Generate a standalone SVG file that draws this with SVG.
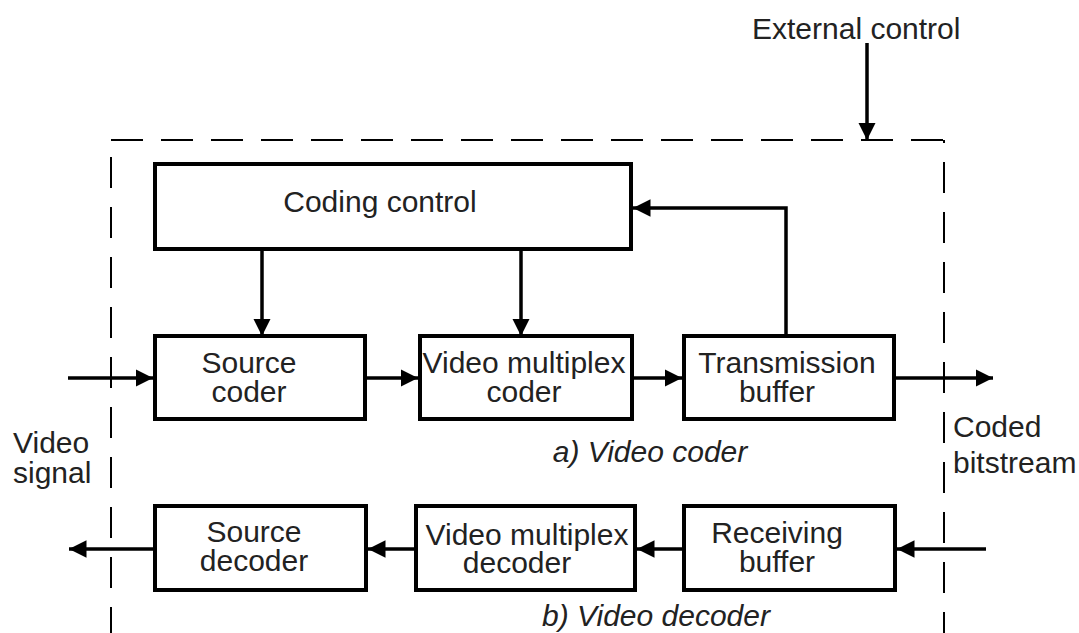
<svg xmlns="http://www.w3.org/2000/svg" width="1079" height="633" viewBox="0 0 1079 633">
  <style>
    .box { fill: #ffffff; stroke: #000000; stroke-width: 4; }
    .lbl { font-family: "Liberation Sans", Arial, sans-serif; font-size: 30px; fill: #222222; text-anchor: middle; }
    .cap { font-family: "Liberation Sans", Arial, sans-serif; font-size: 30px; fill: #222222; font-style: italic; text-anchor: middle; }
    .side { font-family: "Liberation Sans", Arial, sans-serif; font-size: 30px; fill: #222222; }
    .wire { fill: none; stroke: #000000; stroke-width: 3.5; }
    .frame { fill: none; stroke: #000000; stroke-width: 2; }
  </style>
  <defs>
    <marker id="arrow" viewBox="0 0 10 10" refX="10" refY="5" markerWidth="5" markerHeight="5" markerUnits="strokeWidth" orient="auto">
      <path d="M0,0 L10,5 L0,10 z" fill="#000000"/>
    </marker>
  </defs>
  <rect width="1079" height="633" fill="#ffffff"/>

  <!-- system boundary (dashed) -->
  <g id="boundary">
    <line class="frame" x1="111" y1="140" x2="944" y2="140" stroke-dasharray="32 18"/>
    <line class="frame" x1="111" y1="140" x2="111" y2="633" stroke-dasharray="31 19" stroke-dashoffset="33"/>
    <line class="frame" x1="944" y1="140" x2="944" y2="633" stroke-dasharray="31 19" stroke-dashoffset="28"/>
  </g>

  <!-- free labels -->
  <text class="side" x="752" y="39">External control</text>
  <text class="side" x="13" y="453">Video</text>
  <text class="side" x="13" y="483">signal</text>
  <text class="side" x="953" y="437">Coded</text>
  <text class="side" x="953" y="473">bitstream</text>
  <text class="cap" x="650" y="462">a) Video coder</text>
  <text class="cap" x="656" y="626">b) Video decoder</text>

  <!-- coder -->
  <g id="coding-control">
    <rect class="box" x="155" y="164" width="476" height="85"/>
    <text class="lbl" x="380" y="212">Coding control</text>
  </g>
  <g id="source-coder">
    <rect class="box" x="155" y="336" width="210" height="83"/>
    <text class="lbl" x="249" y="373">Source</text>
    <text class="lbl" x="249" y="402">coder</text>
  </g>
  <g id="video-multiplex-coder">
    <rect class="box" x="420" y="336" width="212" height="83"/>
    <text class="lbl" x="524" y="373">Video multiplex</text>
    <text class="lbl" x="524" y="402">coder</text>
  </g>
  <g id="transmission-buffer">
    <rect class="box" x="684" y="336" width="210" height="83"/>
    <text class="lbl" x="787" y="373">Transmission</text>
    <text class="lbl" x="777" y="402">buffer</text>
  </g>

  <!-- decoder -->
  <g id="source-decoder">
    <rect class="box" x="155" y="506" width="211" height="84"/>
    <text class="lbl" x="254" y="542">Source</text>
    <text class="lbl" x="254" y="571">decoder</text>
  </g>
  <g id="video-multiplex-decoder">
    <rect class="box" x="416" y="506" width="219" height="84"/>
    <text class="lbl" x="527" y="545">Video multiplex</text>
    <text class="lbl" x="517" y="573">decoder</text>
  </g>
  <g id="receiving-buffer">
    <rect class="box" x="684" y="506" width="211" height="84"/>
    <text class="lbl" x="777" y="543">Receiving</text>
    <text class="lbl" x="777" y="572">buffer</text>
  </g>

  <!-- connectors -->
  <g id="connectors">
    <line class="wire" x1="867" y1="43" x2="867" y2="140" marker-end="url(#arrow)"/>
    <line class="wire" x1="262" y1="249" x2="262" y2="336" marker-end="url(#arrow)"/>
    <line class="wire" x1="521" y1="249" x2="521" y2="336" marker-end="url(#arrow)"/>
    <polyline class="wire" points="786,336 786,208 633,208" marker-end="url(#arrow)"/>
    <line class="wire" x1="68" y1="378" x2="153" y2="378" marker-end="url(#arrow)"/>
    <line class="wire" x1="365" y1="378" x2="418" y2="378" marker-end="url(#arrow)"/>
    <line class="wire" x1="632" y1="378" x2="682" y2="378" marker-end="url(#arrow)"/>
    <line class="wire" x1="894" y1="378" x2="993" y2="378" marker-end="url(#arrow)"/>
    <line class="wire" x1="986" y1="549" x2="897" y2="549" marker-end="url(#arrow)"/>
    <line class="wire" x1="684" y1="549" x2="637" y2="549" marker-end="url(#arrow)"/>
    <line class="wire" x1="416" y1="549" x2="368" y2="549" marker-end="url(#arrow)"/>
    <line class="wire" x1="155" y1="549" x2="69" y2="549" marker-end="url(#arrow)"/>
  </g>
</svg>
